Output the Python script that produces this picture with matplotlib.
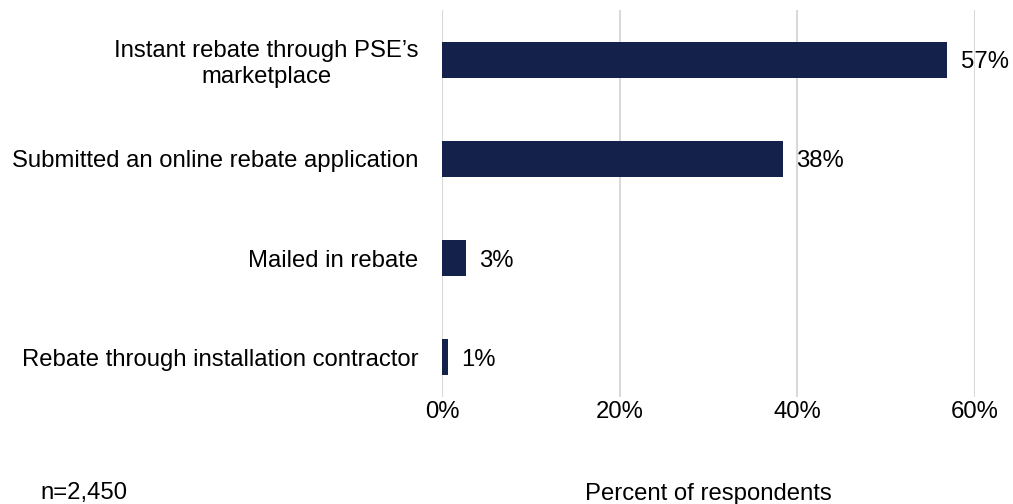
import numpy as np
import matplotlib.pyplot as plt

plt.rcParams['font.family'] = ['Liberation Sans', 'DejaVu Sans']

categories = ['Instant rebate through PSE\u2019s\nmarketplace',
              'Submitted an online rebate application',
              'Mailed in rebate',
              'Rebate through installation contractor']
shares = [56.9, 38.4, 2.7, 0.7]
ticks = [0, 20, 40, 60]
tick_labels = ['0%', '20%', '40%', '60%']

bar_color = '#13214b'
grid_color = '#d9d9d9'
fs = 17.2

fig = plt.figure(figsize=(10.13, 5.04), dpi=100)
ax = fig.add_axes([442 / 1013, 1 - 397 / 504, (975 - 442) / 1013, 387 / 504])

y = np.arange(len(categories))
ax.barh(y, shares, height=0.364, color=bar_color, zorder=3)

# value labels at the end of each bar
for yi, v in zip(y, shares):
    ax.annotate('{:.0f}%'.format(v), (v, yi), xytext=(9.5, 0), textcoords='offset points',
                va='center_baseline', ha='left', fontsize=fs, color='black',
                annotation_clip=False)

ax.set_xlim(0, 60)
ax.set_ylim(3.404, -0.505)
ax.set_xticks(ticks)
ax.set_xticklabels(tick_labels, fontsize=fs)
ax.set_yticks(y)
ax.set_yticklabels(categories, fontsize=fs, multialignment='center')
ax.tick_params(axis='both', length=0)
ax.tick_params(axis='y', pad=17)
ax.tick_params(axis='x', pad=3)
ax.grid(axis='x', color=grid_color, linewidth=1.5, zorder=0)
for s in ax.spines.values():
    s.set_visible(False)

ax.set_xlabel('Percent of respondents', fontsize=fs, labelpad=43)
fig.text(40 / 1013, 1 - 493 / 504, 'n=2,450', fontsize=fs, va='center', ha='left')

fig.savefig('out.png', dpi=100)
